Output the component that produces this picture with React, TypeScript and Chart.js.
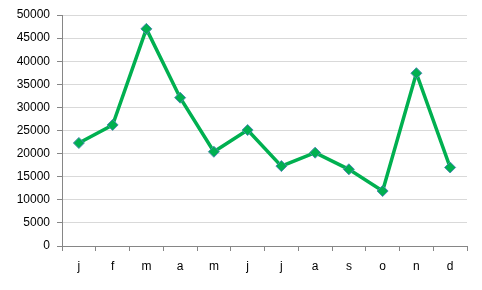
import React, { useEffect, useRef } from "react";
import { Chart, registerables } from "chart.js";

Chart.register(...registerables);

const categories = ["j", "f", "m", "a", "m", "j", "j", "a", "s", "o", "n", "d"];
const values = [22300, 26200, 47000, 32100, 20400, 25100, 17300, 20200, 16600, 11900, 37400, 17000];
const yMin = 0;
const yMax = 50000;
const yStep = 5000;

export default function App() {
  const ref = useRef<HTMLCanvasElement | null>(null);
  useEffect(() => {
    document.body.style.margin = "0";
    const ctx = ref.current!.getContext("2d")!;
    const chart = new Chart(ctx, {
      type: "line",
      data: {
        labels: categories,
        datasets: [
          {
            data: values,
            borderColor: "#00B050",
            backgroundColor: "#00B050",
            borderWidth: 3.5,
            tension: 0,
            pointStyle: "rectRot",
            pointRadius: 5.5,
            pointBackgroundColor: "#00B050",
            pointBorderColor: "#4A8AB0",
            pointBorderWidth: 1,
          },
        ],
      },
      options: {
        responsive: false,
        animation: false,
        layout: { padding: { left: 0, right: 15, top: 15, bottom: 0 } },
        plugins: { legend: { display: false }, tooltip: { enabled: false } },
        scales: {
          x: {
            type: "category",
            offset: true,
            grid: {
              display: true,
              drawOnChartArea: false,
              offset: true,
              tickLength: 5,
              tickColor: "#868686",
            },
            border: { color: "#868686", width: 1 },
            ticks: {
              color: "#000000",
              font: { family: "Liberation Sans, Arial, sans-serif", size: 12 },
              padding: 8,
              maxRotation: 0,
            },
            afterFit: (scale: any) => {
              scale.height = 44;
            },
          },
          y: {
            min: yMin,
            max: yMax,
            ticks: {
              stepSize: yStep,
              color: "#000000",
              font: { family: "Liberation Sans, Arial, sans-serif", size: 12 },
              padding: 7,
              callback: (v: any) => String(v),
            },
            grid: {
              color: "#D9D9D9",
              tickColor: "#868686",
              tickLength: 5,
            },
            border: { color: "#868686", width: 1 },
            afterFit: (scale: any) => {
              scale.width = 62;
            },
          },
        },
      },
    });
    return () => chart.destroy();
  }, []);
  return (
    <div style={{ position: "absolute", left: 0, top: 0, width: 482, height: 290 }}>
      <canvas ref={ref} width={482} height={290} style={{ width: 482, height: 290 }} />
    </div>
  );
}
